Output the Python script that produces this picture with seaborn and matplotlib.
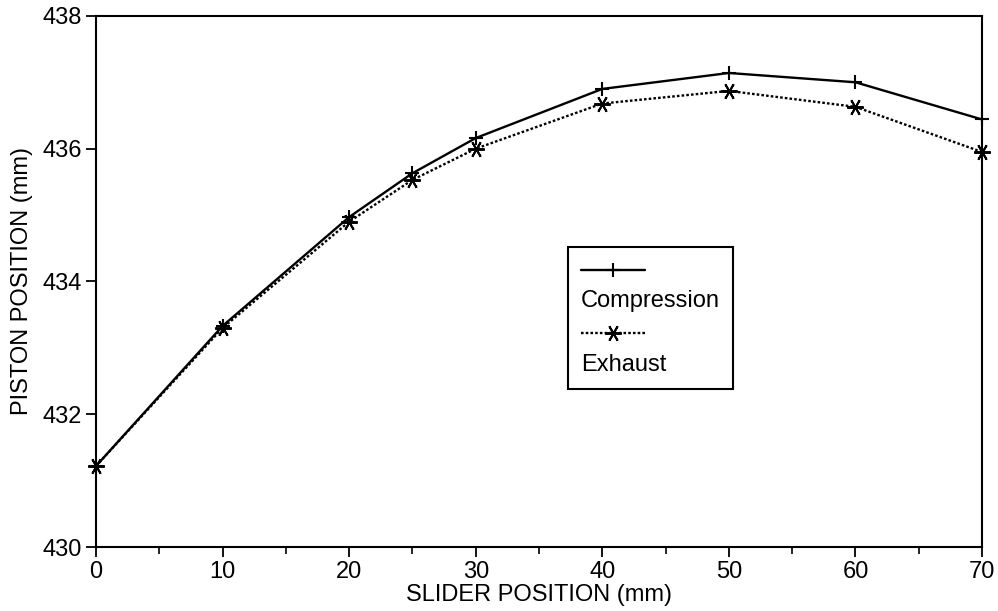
import matplotlib
matplotlib.use("Agg")
import matplotlib.pyplot as plt
import seaborn as sns
import numpy as np
import pandas as pd
from matplotlib.lines import Line2D
from matplotlib.offsetbox import (AnchoredOffsetbox, DrawingArea, TextArea,
                                  VPacker)
from matplotlib.ticker import MultipleLocator

# Piston position measured against slider position
slider_mm = [0, 10, 20, 25, 30, 40, 50, 60, 70]
compression_mm = [431.22, 433.33, 434.97, 435.63, 436.16, 436.90, 437.14, 437.00, 436.44]
exhaust_mm = [431.22, 433.30, 434.90, 435.53, 436.00, 436.68, 436.87, 436.63, 435.95]
series_names = ["Compression", "Exhaust"]

x_label = "SLIDER POSITION (mm)"
y_label = "PISTON POSITION (mm)"

sns.set_style("ticks")
plt.rcParams["font.family"] = ["Liberation Sans", "DejaVu Sans"]
plt.rcParams["font.size"] = 17
for key in ["text.color", "axes.labelcolor", "xtick.color", "ytick.color",
            "xtick.labelcolor", "ytick.labelcolor", "axes.edgecolor"]:
    plt.rcParams[key] = "black"

fig = plt.figure(figsize=(9.98, 6.11), dpi=100)
ax = fig.add_axes([0.0962, 0.1047, 0.8878, 0.8693])

df = pd.DataFrame({"slider": slider_mm,
                   "Compression": compression_mm,
                   "Exhaust": exhaust_mm})

comp_style = dict(color="black", linestyle="-", linewidth=1.7,
                  marker="+", markersize=10, markeredgewidth=1.5,
                  markeredgecolor="black", markerfacecolor="black")
exh_style = dict(color="black", linestyle=(0, (1.1, 0.9)), linewidth=1.7,
                 marker=(6, 2, 90), markersize=12, markeredgewidth=1.4,
                 markeredgecolor="black", markerfacecolor="black")

sns.lineplot(data=df, x="slider", y="Compression", ax=ax, sort=False,
             estimator=None, clip_on=False, **comp_style)
sns.lineplot(data=df, x="slider", y="Exhaust", ax=ax, sort=False,
             estimator=None, clip_on=False, **exh_style)

ax.set_xlim(0, 70)
ax.set_ylim(430, 438)
ax.xaxis.set_major_locator(MultipleLocator(10))
ax.xaxis.set_minor_locator(MultipleLocator(5))
ax.yaxis.set_major_locator(MultipleLocator(2))

ax.tick_params(axis="both", which="major", direction="out", length=7,
               width=1.3, color="black", labelsize=17, pad=3)
ax.tick_params(axis="x", which="minor", direction="out", length=5,
               width=1.2, color="black")
for side in ["left", "right", "top", "bottom"]:
    ax.spines[side].set_visible(True)
    ax.spines[side].set_linewidth(1.5)
    ax.spines[side].set_color("black")

ax.set_xlabel(x_label, fontsize=17, labelpad=1)
ax.set_ylabel(y_label, fontsize=17, labelpad=7)

# Legend: sample line on one row, its name on the row beneath
def sample(style):
    da = DrawingArea(46, 14, 0, 0)
    da.add_artist(Line2D([0, 46], [7, 7], color=style["color"],
                         linestyle=style["linestyle"],
                         linewidth=style["linewidth"]))
    da.add_artist(Line2D([23], [7], color=style["color"], linestyle="none",
                         marker=style["marker"],
                         markersize=style["markersize"],
                         markeredgewidth=style["markeredgewidth"]))
    return da

rows = []
for name, style in zip(series_names, [comp_style, exh_style]):
    rows.append(sample(style))
    rows.append(TextArea(name, textprops=dict(fontsize=17, color="black")))
box = VPacker(children=rows, align="left", pad=0, sep=8)
legend = AnchoredOffsetbox(loc="upper left", child=box, pad=0.55,
                           borderpad=0, frameon=True,
                           bbox_to_anchor=(0.533, 0.565),
                           bbox_transform=ax.transAxes)
legend.patch.set_edgecolor("black")
legend.patch.set_linewidth(1.5)
legend.patch.set_boxstyle("square", pad=0)
ax.add_artist(legend)

fig.savefig("out.png", dpi=100, facecolor="white")
